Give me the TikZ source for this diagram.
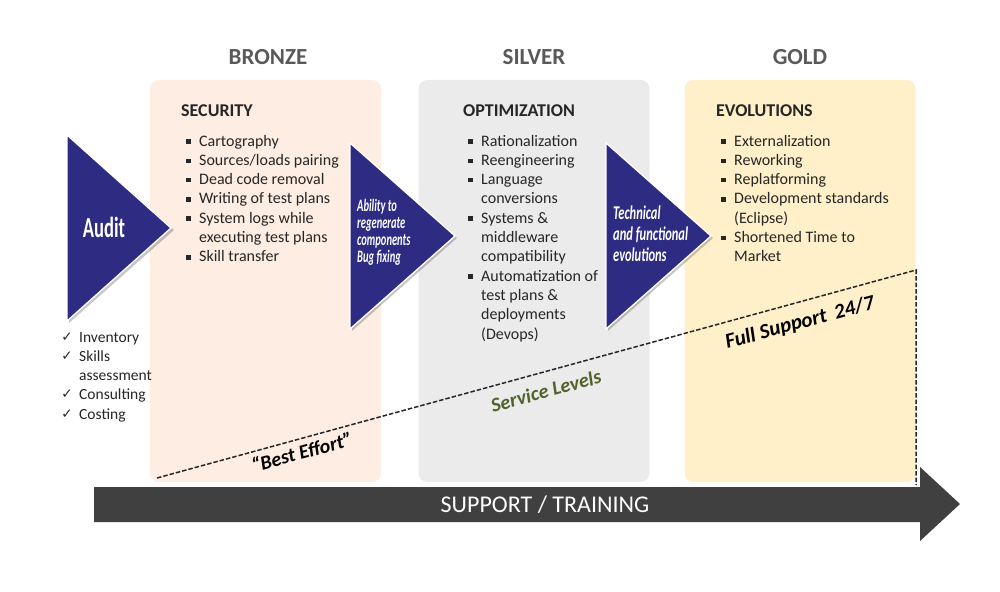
\documentclass[tikz,border=0pt]{standalone}
\usepackage{fontspec}
\setmainfont{Carlito}
\newfontfamily\condfont[FakeStretch=0.64]{Carlito}
\newfontfamily\condfontb[FakeStretch=0.6]{Carlito}
\newfontfamily\symfont{DejaVu Sans}
\definecolor{bronzefill}{HTML}{FDEDE2}
\definecolor{silverfill}{HTML}{EBEBEB}
\definecolor{goldfill}{HTML}{FFF0C9}
\definecolor{navy}{HTML}{2D2B82}
\definecolor{headgray}{HTML}{595959}
\definecolor{textdark}{HTML}{262626}
\definecolor{arrowgray}{HTML}{404040}
\definecolor{olive}{HTML}{4F6228}
\begin{document}
\begin{tikzpicture}[x=1pt,y=-1pt,
  box/.style={rounded corners=9pt, minimum width=231pt, minimum height=402pt, inner sep=0pt},
  head/.style={font=\fontsize{23}{26}\selectfont\bfseries, text=headgray, inner sep=0pt, anchor=base},
  title/.style={font=\fontsize{18}{20}\selectfont\bfseries, text=textdark, anchor=base west, inner sep=0pt},
  item/.style={font=\fontsize{16}{19}\selectfont, text=textdark, anchor=base west, inner sep=0pt},
  bul/.style={fill=textdark, minimum size=4.5pt, inner sep=0pt},
  tri/.style={fill=navy, draw=white, line width=1.3pt, line join=miter},
  trishadow/.style={fill=black, opacity=0.22},
  tritext/.style={text=white, align=left, inner sep=0pt, anchor=base west},
  dashline/.style={draw=black!85, dash pattern=on 4.5pt off 2pt, line width=1.5pt},
  slope/.style={rotate=15.3, inner sep=0pt, font=\fontsize{20}{22}\selectfont\bfseries\itshape}]
\useasboundingbox (0,0) rectangle (1000,591);
\fill[white] (0,0) rectangle (1000,591);

% column boxes
\node[box, fill=bronzefill] (bronze) at (265.5,281) {};
\node[box, fill=silverfill] (silver) at (534,281) {};
\node[box, fill=goldfill] (gold) at (800,281) {};

% headers
\node[head] (hb) at (268,65) {BRONZE};
\node[head] (hs) at (534,65) {SILVER};
\node[head] (hg) at (800,65) {GOLD};

% titles
\node[title] (tb) at (181,117) {SECURITY};
\node[title] (ts) at (463,117) {OPTIMIZATION};
\node[title] (tg) at (716,117) {EVOLUTIONS};

% bronze list
\foreach \b/\t [count=\i from 0] in {1/Cartography, 1/{Sources/loads pairing}, 1/Dead code removal, 1/Writing of test plans, 1/System logs while, 0/executing test plans, 1/Skill transfer}{
  \node[item] (lb\i) at (199,146+19.3*\i) {\t};
  \ifnum\b=1 \node[bul] (bb\i) at (188.5,141.5+19.3*\i) {};\fi
}
% silver list
\foreach \b/\t [count=\i from 0] in {1/Rationalization, 1/Reengineering, 1/Language, 0/conversions, 1/{Systems \&}, 0/middleware, 0/compatibility, 1/Automatization of, 0/{test plans \&}, 0/deployments, 0/(Devops)}{
  \node[item] (ls\i) at (481,146+19.3*\i) {\t};
  \ifnum\b=1 \node[bul] (bs\i) at (470.5,141.5+19.3*\i) {};\fi
}
% gold list
\foreach \b/\t [count=\i from 0] in {1/Externalization, 1/Reworking, 1/Replatforming, 1/Development standards, 0/(Eclipse), 1/Shortened Time to, 0/Market}{
  \node[item] (lg\i) at (734,146+19.3*\i) {\t};
  \ifnum\b=1 \node[bul] (bg\i) at (723.5,141.5+19.3*\i) {};\fi
}

% triangles
\fill[trishadow] (69,137) -- (174,230) -- (69,323) -- cycle;
\filldraw[tri] (67,135) -- (171,228) -- (67,321) -- cycle;
\node[font=\condfont\fontsize{29}{30}\selectfont\bfseries, text=white, inner sep=0pt, anchor=base] (audit) at (104,237) {Audit};

\fill[trishadow] (352,145) -- (457,238) -- (352,331) -- cycle;
\filldraw[tri] (350,143) -- (455,236) -- (350,329) -- cycle;
\node[tritext, font=\condfontb\fontsize{17.5}{16.8}\selectfont\bfseries\itshape] (abil) at (357,262) {Ability to\\regenerate\\components\\Bug fixing};

\fill[trishadow] (608,145) -- (713,238) -- (608,331) -- cycle;
\filldraw[tri] (606,143) -- (711,236) -- (606,329) -- cycle;
\node[tritext, font=\condfont\fontsize{19.5}{21}\selectfont\bfseries\itshape] (tech) at (613,261) {Technical\\and functional\\evolutions};

% checklist
\foreach \b/\t [count=\i from 0] in {1/Inventory, 1/Skills, 0/assessment, 1/Consulting, 1/Costing}{
  \node[item, font=\fontsize{15.5}{19}\selectfont] (lc\i) at (79,342+19.3*\i) {\t};
  \ifnum\b=1 \node[inner sep=0pt, anchor=base, text=textdark, font=\symfont\fontsize{13.5}{14}\selectfont] (ck\i) at (67,341+19.3*\i) {✓};\fi
}

% service level line
\coordinate (be) at (157,478);
\coordinate (fs) at (916,270);
\coordinate (fe) at (916,485);
\draw[dashline] (be) -- (fs) -- (fe);
\node[slope] (best) at (302,452) {“Best Effort”};
\node[slope, text=olive] (serv) at (546,391) {Service Levels};
\node[slope, font=\fontsize{21}{22}\selectfont\bfseries\itshape] (full) at (800,323) {Full Support\, 24/7};

% support arrow
\fill[arrowgray] (94,487) -- (920,487) -- (920,467) -- (960,504) -- (920,541) -- (920,522) -- (94,522) -- cycle;
\node[text=white, font=\fontsize{24}{25}\selectfont, inner sep=0pt] (supp) at (545,505) {SUPPORT / TRAINING};
\end{tikzpicture}
\end{document}
